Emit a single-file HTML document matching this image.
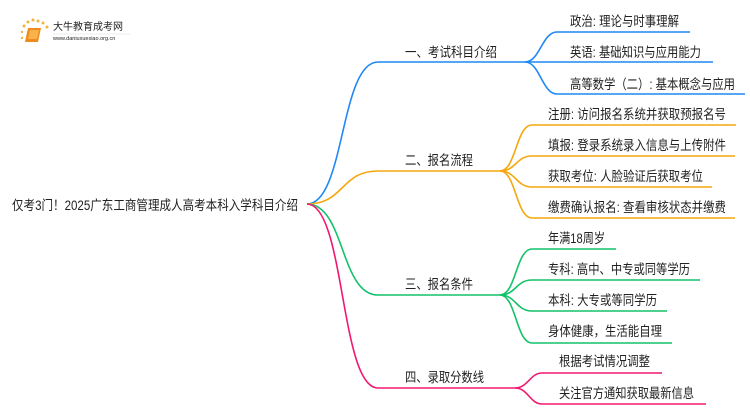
<!DOCTYPE html>
<html><head><meta charset="utf-8"><style>
body{margin:0;width:750px;height:410px;background:#fff;overflow:hidden;font-family:"Liberation Sans","Noto Sans CJK SC",sans-serif;}
svg text{font-family:"Liberation Sans","Noto Sans CJK SC",sans-serif;fill:#222;}
</style></head><body>
<svg width="750" height="410" viewBox="0 0 750 410">
<g>
<circle cx="24" cy="26" r="1.5" fill="#f7b23b"/><circle cx="28" cy="22" r="1.5" fill="#f7b23b"/><circle cx="33" cy="20" r="1.5" fill="#f7b23b"/><circle cx="38" cy="21" r="1.5" fill="#f7b23b"/><circle cx="43" cy="23" r="1.5" fill="#f7b23b"/><circle cx="47" cy="27" r="1.5" fill="#f7b23b"/><circle cx="22" cy="32" r="1.2" fill="#f7b23b"/><circle cx="22" cy="38" r="1.2" fill="#f7b23b"/>
<path d="M28 28 h13 l-3 14 h-13 z" fill="#f08a1c"/><path d="M30 30 h9 l-2 9 h-9z" fill="#f9b24a"/>
<text x="53" y="30" font-size="10" fill="#333">大牛教育成考网</text>
<text x="53" y="40" font-size="5.5" fill="#555">www.daniuxuexiao.org.cn</text>
<line x1="53" y1="34" x2="130" y2="34" stroke="#ddd" stroke-width="0.5"/>
</g>
<text x="12" y="210" font-size="13.5" textLength="286" lengthAdjust="spacingAndGlyphs">仅考3门！2025广东工商管理成人高考本科入学科目介绍</text>
<g fill="none" stroke-width="1.6">
<path d="M307 204 C345 204,340 62,378 62 H525" stroke="#1e88f5"/>
<path d="M307 204 C345 204,340 171,378 171 H500" stroke="#f5a70d"/>
<path d="M307 204 C345 204,340 295,378 295 H500" stroke="#13c26a"/>
<path d="M307 204 C345 204,340 388,378 388 H515" stroke="#f0186f"/>
<path d="M525 62 C540 62,542 32,557 32 H690" stroke="#1e88f5"/>
<path d="M525 62 H713" stroke="#1e88f5"/>
<path d="M525 62 C540 62,542 94,557 94 H745" stroke="#1e88f5"/>
<path d="M500 171 C516 171,516 125,532 125 H736" stroke="#f5a70d"/>
<path d="M500 171 C516 171,516 156,532 156 H735" stroke="#f5a70d"/>
<path d="M500 171 C516 171,516 187,532 187 H712" stroke="#f5a70d"/>
<path d="M500 171 C516 171,516 218,532 218 H735" stroke="#f5a70d"/>
<path d="M500 295 C516 295,516 249,532 249 H616" stroke="#13c26a"/>
<path d="M500 295 C516 295,516 280,532 280 H700" stroke="#13c26a"/>
<path d="M500 295 C516 295,516 311,532 311 H667" stroke="#13c26a"/>
<path d="M500 295 C516 295,516 343,532 343 H672" stroke="#13c26a"/>
<path d="M515 388 C528 388,530 373,542 373 H662" stroke="#f0186f"/>
<path d="M515 388 C528 388,530 404,542 404 H706" stroke="#f0186f"/>
</g>
<g font-size="13.5" lengthAdjust="spacingAndGlyphs">
<text x="405" y="57" textLength="92" lengthAdjust="spacingAndGlyphs">一、考试科目介绍</text>
<text x="405" y="165" textLength="68" lengthAdjust="spacingAndGlyphs">二、报名流程</text>
<text x="405" y="289" textLength="68" lengthAdjust="spacingAndGlyphs">三、报名条件</text>
<text x="405" y="382" textLength="79" lengthAdjust="spacingAndGlyphs">四、录取分数线</text>
<text x="570" y="26" textLength="109" lengthAdjust="spacingAndGlyphs">政治: 理论与时事理解</text>
<text x="570" y="57" textLength="131" lengthAdjust="spacingAndGlyphs">英语: 基础知识与应用能力</text>
<text x="570" y="89" textLength="165" lengthAdjust="spacingAndGlyphs">高等数学（二）: 基本概念与应用</text>
<text x="548" y="119" textLength="178" lengthAdjust="spacingAndGlyphs">注册: 访问报名系统并获取预报名号</text>
<text x="548" y="150" textLength="178" lengthAdjust="spacingAndGlyphs">填报: 登录系统录入信息与上传附件</text>
<text x="548" y="181" textLength="155" lengthAdjust="spacingAndGlyphs">获取考位: 人脸验证后获取考位</text>
<text x="548" y="212" textLength="178" lengthAdjust="spacingAndGlyphs">缴费确认报名: 查看审核状态并缴费</text>
<text x="548" y="243" textLength="57" lengthAdjust="spacingAndGlyphs">年满18周岁</text>
<text x="548" y="274" textLength="142" lengthAdjust="spacingAndGlyphs">专科: 高中、中专或同等学历</text>
<text x="548" y="305" textLength="109" lengthAdjust="spacingAndGlyphs">本科: 大专或等同学历</text>
<text x="548" y="336" textLength="114" lengthAdjust="spacingAndGlyphs">身体健康，生活能自理</text>
<text x="559" y="366" textLength="91" lengthAdjust="spacingAndGlyphs">根据考试情况调整</text>
<text x="559" y="398" textLength="135" lengthAdjust="spacingAndGlyphs">关注官方通知获取最新信息</text>
</g>
</svg>
</body></html>
